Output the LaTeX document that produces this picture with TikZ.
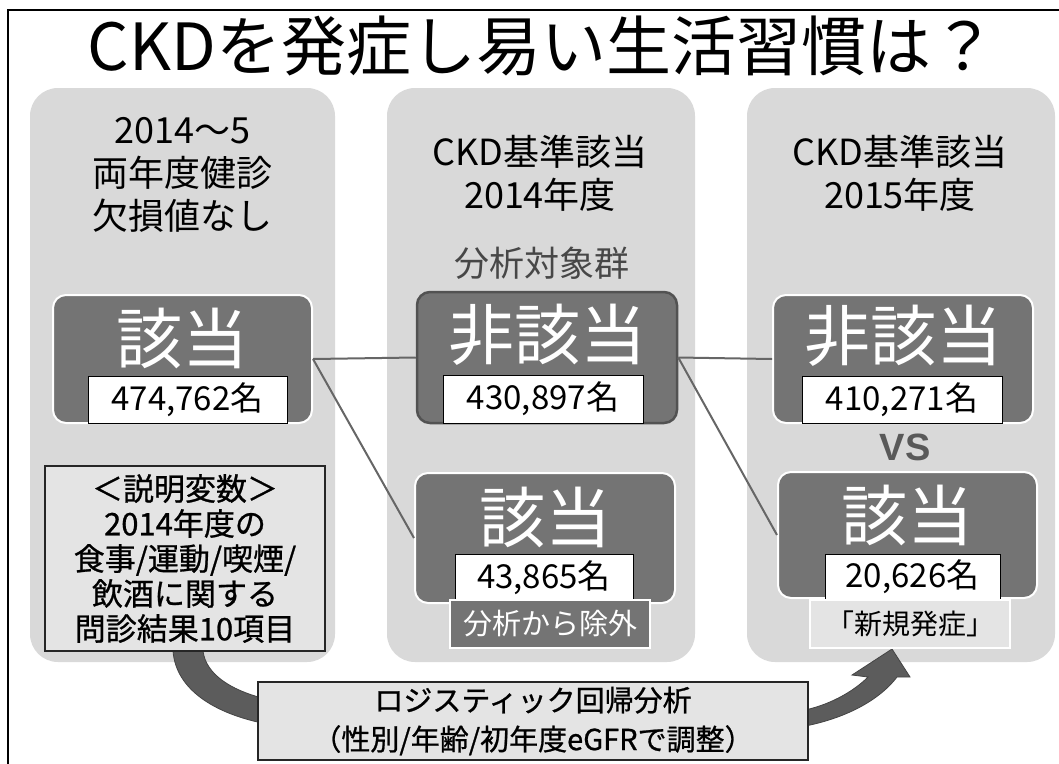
\documentclass[tikz,border=0pt]{standalone}
\usepackage{fontspec}
\setmainfont{Noto Sans CJK JP}
\newfontfamily\vsfont{Liberation Sans}
\newfontfamily\medfont[FakeBold=0.8]{Noto Sans CJK JP}
\definecolor{panelgray}{HTML}{D9D9D9}
\definecolor{darkfill}{HTML}{747474}
\definecolor{lightfill}{HTML}{E4E4E4}
\definecolor{linegray}{HTML}{666666}
\definecolor{bandgray}{HTML}{5C5C5C}
\definecolor{bandedge}{HTML}{444444}
\tikzset{
  panel/.style={fill=panelgray, draw=none, rounded corners=28pt},
  darkbox/.style={fill=darkfill, draw=white, line width=2pt, rounded corners=13pt, inner sep=0pt},
  darkboxb/.style={fill=darkfill, draw=black!68, line width=2.5pt, rounded corners=13pt, inner sep=0pt},
  bigtxt/.style={text=white, inner sep=0pt, font=\fontsize{66}{70}\selectfont},
  countbox/.style={fill=white, draw=black, line width=1pt, inner sep=0pt, font=\fontsize{33}{36}\selectfont},
  hdr/.style={align=center, inner sep=0pt, font=\fontsize{36}{43}\selectfont},
  conn/.style={draw=linegray, line width=2pt},
  band/.style={fill=bandgray, draw=bandedge, line width=0.8pt},
}
\begin{document}
\begin{tikzpicture}[x=1pt,y=-1pt]
\useasboundingbox (0,0) rectangle (1059,763);
\clip (0,0) rectangle (1059,763);
\fill[white] (0,0) rectangle (1059,763);
% outer frame
\draw[line width=1.2pt] (8,10) rectangle (1080,800);
% title
\node[inner sep=0pt, font=\fontsize{65}{70}\selectfont] (title) at (542,46) {CKDを発症し易い生活習慣は？};
% panels
\node[panel, minimum width=305pt, minimum height=574pt] (pl) at (182.5,375) {};
\node[panel, minimum width=308pt, minimum height=574pt] (pm) at (541,375) {};
\node[panel, minimum width=308pt, minimum height=574pt] (pr) at (901,375) {};
% headers
\node[hdr] (hl) at (182.5,175) {2014～5\\両年度健診\\欠損値なし};
\node[hdr] (hm) at (540,173.5) {CKD基準該当\\2014年度};
\node[hdr] (hr) at (900,173.5) {CKD基準該当\\2015年度};
\node[inner sep=0pt, text=black!72, font=\fontsize{35}{40}\selectfont] (target) at (542,263) {分析対象群};
% curved arrows
\path[band] (173,651) .. controls (176,690) and (215,713) .. (262,723) -- (262,698) .. controls (232,690) and (206,675) .. (203,651) -- cycle;
\path[band] (800,711) .. controls (828,706) and (853,692) .. (868,677) -- (852,675) -- (892,649) -- (910,677) -- (897,677) .. controls (877,703) and (840,720) .. (800,727) -- cycle;
% left column boxes
\node[darkbox, minimum width=259pt, minimum height=128pt] (lyes) at (182.5,359) {};
\node[bigtxt] (lyest) at (182,338) {該当};
\node[countbox, minimum width=199pt, minimum height=47pt] (lyesn) at (187.5,399.5) {474,762名};
\node[fill=lightfill, draw=black!85, line width=1.2pt, minimum width=280pt, minimum height=185pt, align=center, inner sep=0pt, font=\medfont\fontsize{31}{35}\selectfont] (expl) at (185,558.5) {＜説明変数＞\\2014年度の\\食事/運動/喫煙/\\飲酒に関する\\問診結果10項目};
% middle column boxes
\node[darkboxb, minimum width=260pt, minimum height=131pt] (mno) at (547,357.5) {};
\node[bigtxt] (mnot) at (547,335) {非該当};
\node[countbox, minimum width=200pt, minimum height=48pt] (mnon) at (543,399) {430,897名};
\node[darkbox, minimum width=260pt, minimum height=130pt] (myes) at (545,538) {};
\node[bigtxt] (myest) at (545,517) {該当};
\node[countbox, minimum width=178pt, minimum height=47pt] (myesn) at (544,578) {43,865名};
\node[fill=darkfill, draw=white, line width=2pt, minimum width=200pt, minimum height=48pt, inner sep=0pt, text=white, font=\fontsize{29}{32}\selectfont] (excl) at (550,624) {分析から除外};
% right column boxes
\node[darkbox, minimum width=260pt, minimum height=128pt] (rno) at (903,359) {};
\node[bigtxt] (rnot) at (903,336) {非該当};
\node[countbox, minimum width=200pt, minimum height=47pt] (rnon) at (902,399.5) {410,271名};
\node[inner sep=0pt, text=black!65, font=\vsfont\bfseries\fontsize{38}{40}\selectfont] (vs) at (905,447) {VS};
\node[darkbox, minimum width=259pt, minimum height=126pt] (ryes) at (907.5,535) {};
\node[bigtxt] (ryest) at (907,515) {該当};
\node[countbox, minimum width=175pt, minimum height=45pt] (ryesn) at (912.5,577) {20,626名};
\node[fill=lightfill, draw=white, line width=2pt, minimum width=200pt, minimum height=48pt, inner sep=0pt, font=\fontsize{28}{32}\selectfont] (newl) at (910,624) {「新規発症」};
% bottom box
\node[fill=lightfill, draw=black!85, line width=1.2pt, minimum width=550pt, minimum height=78pt, align=center, inner sep=0pt, font=\medfont\fontsize{29}{39}\selectfont] (logit) at (533,721) {ロジスティック回帰分析\\（性別/年齢/初年度eGFRで調整）};
% connectors
\draw[conn] (lyes.east) -- (mno.west);
\draw[conn] (lyes.east) -- (myes.west);
\draw[conn] (mno.east) -- (rno.west);
\draw[conn] (mno.east) -- (ryes.west);
\end{tikzpicture}
\end{document}
